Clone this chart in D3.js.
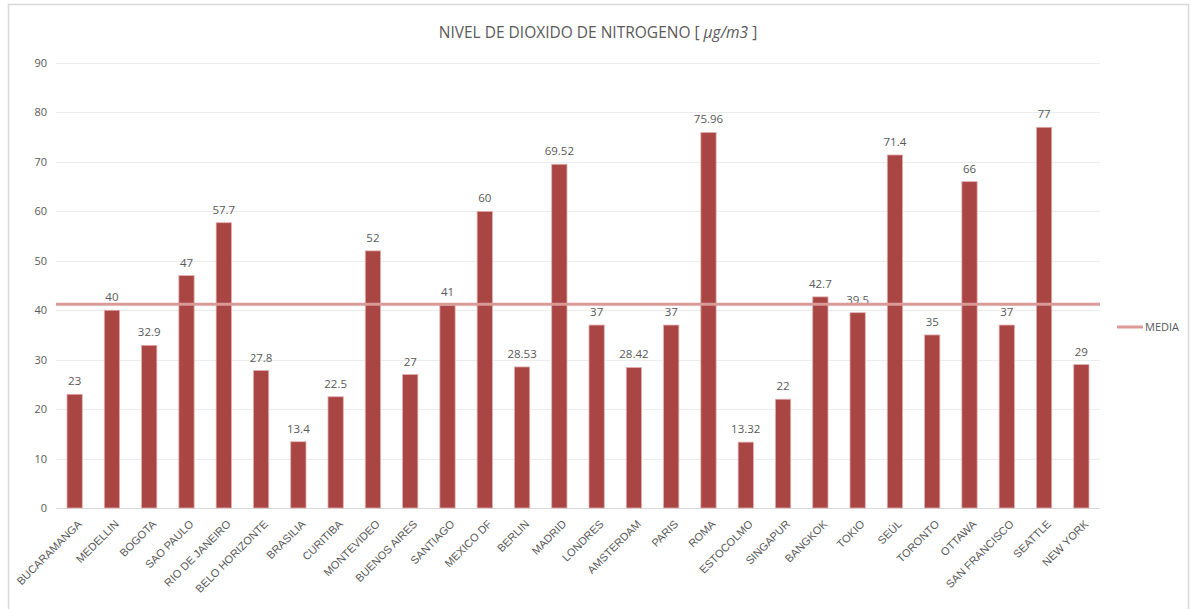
<!DOCTYPE html>
<html>
<head>
<meta charset="utf-8">
<script src="https://cdn.jsdelivr.net/npm/d3@7"></script>
<style>
  html, body { margin: 0; padding: 0; background: #fff; }
  svg { display: block; font-family: "Open Sans", "Liberation Sans", sans-serif; }
</style>
</head>
<body>
<svg id="chart" width="1191" height="609"></svg>
<script>
// NO2 levels by city
const cities = ["BUCARAMANGA", "MEDELLIN", "BOGOTA", "SAO PAULO", "RIO DE JANEIRO", "BELO HORIZONTE",
  "BRASILIA", "CURITIBA", "MONTEVIDEO", "BUENOS AIRES", "SANTIAGO", "MEXICO DF", "BERLIN", "MADRID",
  "LONDRES", "AMSTERDAM", "PARIS", "ROMA", "ESTOCOLMO", "SINGAPUR", "BANGKOK", "TOKIO", "SEÚL",
  "TORONTO", "OTTAWA", "SAN FRANCISCO", "SEATTLE", "NEW YORK"];
const no2Values = [23, 40, 32.9, 47, 57.7, 27.8, 13.4, 22.5, 52, 27, 41, 60, 28.53, 69.52,
  37, 28.42, 37, 75.96, 13.32, 22, 42.7, 39.5, 71.4, 35, 66, 37, 77, 29];
const mediaValue = 41.2;
const yTicks = [0, 10, 20, 30, 40, 50, 60, 70, 80, 90];
const titleText = "NIVEL DE DIOXIDO DE NITROGENO [ ";
const titleUnit = "µg/m3";
const legendLabel = "MEDIA";

const data = cities.map((c, i) => ({ city: c, value: no2Values[i] }));

const svg = d3.select("#chart");
const plot = { left: 56, right: 1100, top: 63, bottom: 508 };

// chart frame
svg.append("rect")
  .attr("x", 8.5).attr("y", 4.5)
  .attr("width", 1180).attr("height", 620)
  .attr("fill", "#fff")
  .attr("stroke", "#d9d9d9").attr("stroke-width", 1.5);

const x = d3.scaleBand()
  .domain(cities)
  .range([plot.left, plot.right])
  .paddingInner(0.59)
  .paddingOuter(0.295);

const y = d3.scaleLinear()
  .domain([0, 90])
  .range([plot.bottom, plot.top]);

// gridlines
svg.append("g")
  .selectAll("line")
  .data(yTicks)
  .join("line")
  .attr("x1", plot.left).attr("x2", plot.right)
  .attr("y1", d => Math.round(y(d)) + 0.5)
  .attr("y2", d => Math.round(y(d)) + 0.5)
  .attr("stroke", d => d === 0 ? "#d9d9d9" : "#ececec")
  .attr("stroke-width", 1);

// y axis labels
const yAxis = d3.axisLeft(y).tickValues(yTicks).tickSize(0).tickPadding(9);
const gy = svg.append("g")
  .attr("transform", `translate(${plot.left},0)`)
  .call(yAxis);
gy.select(".domain").remove();
gy.selectAll("text")
  .attr("fill", "#595959")
  .style("font-size", "11px")
  .style("font-family", "'Open Sans', sans-serif");

// bars
svg.append("g")
  .selectAll("rect")
  .data(data)
  .join("rect")
  .attr("x", d => x(d.city))
  .attr("y", d => y(d.value))
  .attr("width", x.bandwidth())
  .attr("height", d => y(0) - y(d.value))
  .attr("fill", "#a94543")
  .attr("stroke", "#e2b0b0")
  .attr("stroke-width", 0.8);

// value labels
svg.append("g")
  .selectAll("text")
  .data(data)
  .join("text")
  .attr("x", d => x(d.city) + x.bandwidth() / 2)
  .attr("y", d => y(d.value) - 9)
  .attr("text-anchor", "middle")
  .attr("fill", "#595959")
  .style("font-size", "11.5px")
  .text(d => d.value);

// mean line
const mediaLine = d3.line()
  .x(d => d)
  .y(() => y(mediaValue));
svg.append("path")
  .datum([plot.left, plot.right])
  .attr("d", mediaLine)
  .attr("stroke", "#d99a98")
  .attr("stroke-width", 3)
  .attr("fill", "none");

// x axis labels
const xAxis = d3.axisBottom(x).tickSize(0).tickPadding(0);
const gx = svg.append("g")
  .attr("transform", `translate(0,${plot.bottom})`)
  .call(xAxis);
gx.select(".domain").remove();
gx.selectAll("text")
  .attr("fill", "#595959")
  .style("font-size", "11px")
  .attr("text-anchor", "end")
  .attr("dy", "0.35em")
  .attr("transform", "translate(5,14) rotate(-45)")
  .attr("x", 0).attr("y", 0);

// title
const title = svg.append("text")
  .attr("x", 598).attr("y", 38)
  .attr("text-anchor", "middle")
  .attr("fill", "#595959")
  .style("font-size", "15.5px");
title.append("tspan").text(titleText);
title.append("tspan").style("font-style", "italic").text(titleUnit);
title.append("tspan").text(" ]");

// legend
const lg = svg.append("g").attr("transform", "translate(1117,327)");
lg.append("line")
  .attr("x1", 0).attr("x2", 26)
  .attr("stroke", "#d99a98").attr("stroke-width", 3);
lg.append("text")
  .attr("x", 28).attr("y", 0).attr("dy", "0.35em")
  .attr("fill", "#595959")
  .style("font-size", "11px")
  .text(legendLabel);
</script>
</body>
</html>
